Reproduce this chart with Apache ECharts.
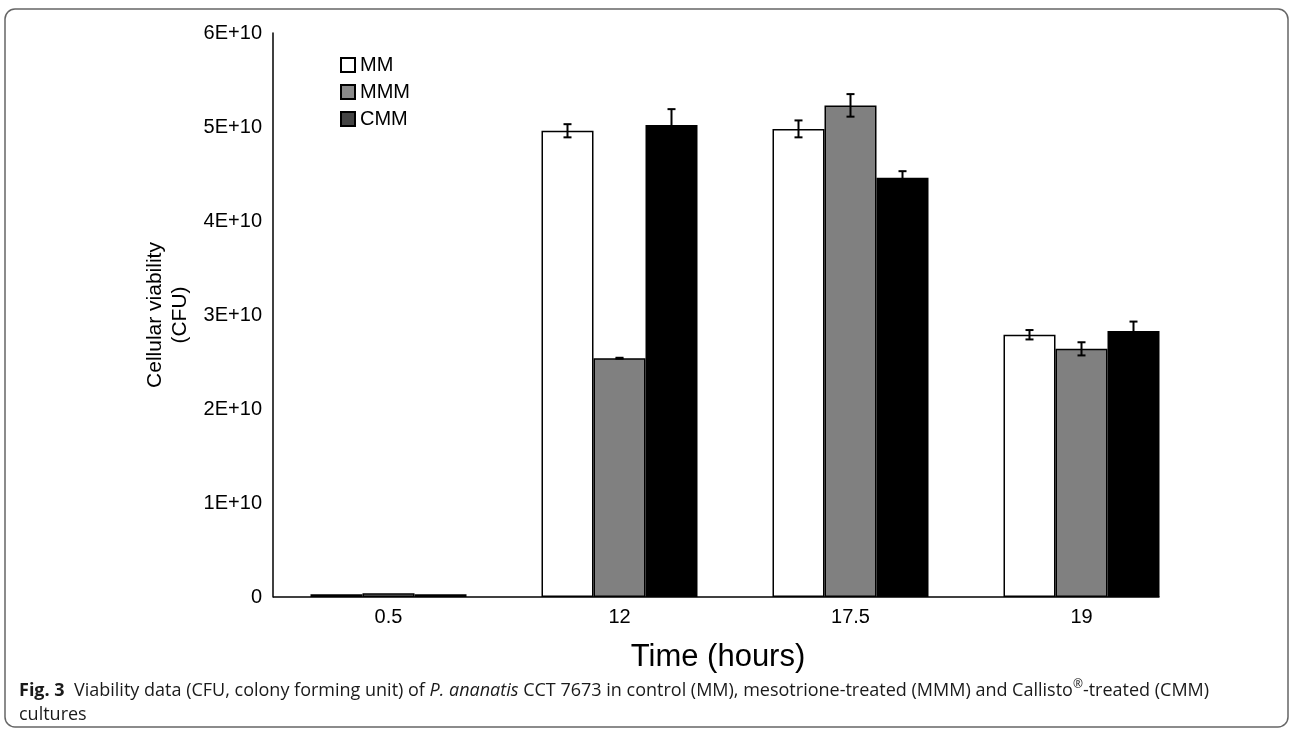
<!DOCTYPE html>
<html>
<head>
<meta charset="utf-8">
<script src="https://cdn.jsdelivr.net/npm/echarts@6/dist/echarts.min.js"></script>
<style>
  html, body {margin: 0; padding: 0; background: #fff;}
  #chart {width: 1292px; height: 733px;}
</style>
</head>
<body>
<div id="chart"></div>
<script>
// time points (hours)
const categories = ['0.5', '12', '17.5', '19'];
// CFU values per culture
const mmValues = [0.03e10, 4.96e10, 4.98e10, 2.79e10];
const mmmValues = [0.04e10, 2.54e10, 5.23e10, 2.64e10];
const cmmValues = [0.03e10, 5.02e10, 4.46e10, 2.83e10];
// error bars (+/-)
const mmErrors = [0, 0.07e10, 0.09e10, 0.05e10];
const mmmErrors = [0, 0.005e10, 0.12e10, 0.07e10];
const cmmErrors = [0, 0.17e10, 0.07e10, 0.10e10];

const BAR_W = 52;
const FONT = 'Liberation Sans, Arial, sans-serif';

const chart = echarts.init(document.getElementById('chart'));

const errorSeries = (name, values, errors, offset) => ({
  name: name + ' err',
  type: 'custom',
  z: 5,
  silent: true,
  data: values.map((v, i) => [i, v, errors[i]]),
  encode: {x: 0, y: 1},
  renderItem: (params, api) => {
    const idx = api.value(0);
    const val = api.value(1);
    const err = api.value(2);
    if (!err) return null;
    const cx = api.coord([idx, val])[0] + offset;
    const hi = api.coord([idx, val + err])[1];
    const lo = api.coord([idx, val - err])[1];
    const st = {stroke: '#000', lineWidth: 2};
    return {
      type: 'group',
      children: [
        {type: 'line', shape: {x1: cx, y1: hi, x2: cx, y2: lo}, style: st},
        {type: 'line', shape: {x1: cx - 4, y1: hi, x2: cx + 4, y2: hi}, style: st},
        {type: 'line', shape: {x1: cx - 4, y1: lo, x2: cx + 4, y2: lo}, style: st}
      ]
    };
  }
});

const barSeries = (name, values, color) => ({
  name: name,
  type: 'bar',
  barWidth: BAR_W,
  barGap: '0%',
  data: values,
  itemStyle: {color: color, borderColor: '#000', borderWidth: 1.5}
});

const option = {
  animation: false,
  backgroundColor: '#fff',
  grid: {left: 273, top: 33, width: 924, bottom: 136},
  legend: {
    orient: 'vertical',
    left: 335,
    top: 50,
    itemWidth: 14,
    itemHeight: 14,
    itemGap: 7,
    icon: 'rect',
    textStyle: {fontFamily: FONT, fontSize: 20, color: '#000'},
    data: [
      {name: 'MM', itemStyle: {color: '#fff', borderColor: '#000', borderWidth: 2}},
      {name: 'MMM', itemStyle: {color: '#8a8a8a', borderColor: '#000', borderWidth: 2}},
      {name: 'CMM', itemStyle: {color: '#444', borderColor: '#000', borderWidth: 2}}
    ]
  },
  title: [
    {
      text: 'Time (hours)',
      left: 713,
      top: 637,
      textAlign: 'center',
      textStyle: {fontFamily: FONT, fontSize: 31, fontWeight: 'normal', color: '#000'}
    },
    {
      text: '{b|Fig. 3}  Viability data (CFU, colony forming unit) of {i|P. ananatis} CCT 7673 in control (MM), mesotrione-treated (MMM) and Callisto{s|®}-treated (CMM)\ncultures',
      left: 14,
      top: 674,
      textStyle: {
        fontFamily: 'Open Sans', fontSize: 18, fontWeight: 'normal', color: '#1a1a1a', lineHeight: 24,
        rich: {
          b: {fontFamily: 'Open Sans', fontSize: 18, fontWeight: 'bold', color: '#1a1a1a'},
          i: {fontFamily: 'Open Sans', fontSize: 18, fontStyle: 'italic', color: '#1a1a1a'},
          s: {fontFamily: 'Open Sans', fontSize: 12, color: '#1a1a1a', verticalAlign: 'top', padding: [0, 0, 9, 0]}
        }
      }
    }
  ],
  xAxis: {
    type: 'category',
    data: categories,
    axisLine: {show: false},
    axisTick: {show: false},
    axisLabel: {fontFamily: FONT, fontSize: 20, color: '#000', margin: 10}
  },
  yAxis: {
    type: 'value',
    min: 0,
    max: 6e10,
    interval: 1e10,
    name: 'Cellular viability\n(CFU)',
    nameLocation: 'middle',
    nameRotate: 90,
    nameGap: 72,
    nameTextStyle: {fontFamily: FONT, fontSize: 21, color: '#000', lineHeight: 25},
    axisLine: {show: true, lineStyle: {color: '#000', width: 1.5}},
    axisTick: {show: false},
    splitLine: {show: false},
    axisLabel: {
      fontFamily: FONT, fontSize: 20, color: '#000', margin: 11,
      formatter: v => v === 0 ? '0' : (v / 1e10) + 'E+10'
    }
  },
  series: [
    barSeries('MM', mmValues, '#fff'),
    barSeries('MMM', mmmValues, '#808080'),
    barSeries('CMM', cmmValues, '#000'),
    errorSeries('MM', mmValues, mmErrors, -BAR_W),
    errorSeries('MMM', mmmValues, mmmErrors, 0),
    errorSeries('CMM', cmmValues, cmmErrors, BAR_W)
  ]
};

chart.setOption(option);

// x axis line stops at the right edge of the last bar group
const y0 = chart.convertToPixel({yAxisIndex: 0}, 0);
const xEnd = chart.convertToPixel({xAxisIndex: 0}, categories[categories.length - 1]) + 1.5 * BAR_W;
chart.setOption({
  graphic: [
    {
      type: 'line',
      shape: {x1: 273, y1: y0, x2: xEnd, y2: y0},
      style: {stroke: '#000', lineWidth: 1.5},
      z: 10
    },
    {
      type: 'rect',
      shape: {x: 5, y: 9, width: 1283, height: 718, r: 10},
      style: {fill: 'none', stroke: '#666', lineWidth: 1.5},
      silent: true
    }
  ]
});
</script>
</body>
</html>
